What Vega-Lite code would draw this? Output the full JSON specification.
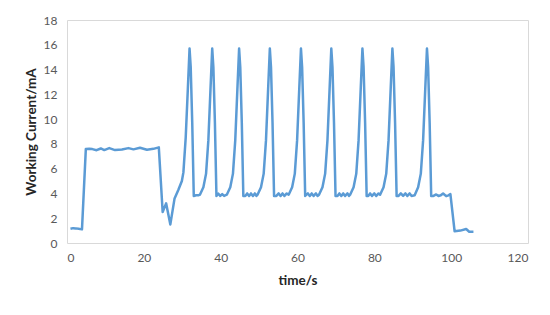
{
  "$schema": "https://vega.github.io/schema/vega-lite/v6.json",
  "autosize": "none",
  "width": 461,
  "height": 223,
  "padding": {"left": 67, "top": 20, "right": 22, "bottom": 72},
  "background": "white",
  "config": {
    "view": {"stroke": "#d9d9d9", "strokeWidth": 1},
    "font": "Lato",
    "axis": {
      "grid": false,
      "domain": false,
      "ticks": false,
      "labelFont": "Lato",
      "labelFontSize": 12,
      "labelColor": "#595959",
      "titleFont": "Lato",
      "titleFontSize": 13.5,
      "titleFontWeight": "bold",
      "titleColor": "#262626"
    }
  },
  "data": {
    "values": [
      {"t": 0.9, "v": 1.15}, {"t": 1.6, "v": 1.2}, {"t": 2.3, "v": 1.18}, {"t": 3.0, "v": 1.15}, {"t": 3.9, "v": 1.1},
      {"t": 4.9, "v": 7.58}, {"t": 5.8, "v": 7.6}, {"t": 6.6, "v": 7.58}, {"t": 7.7, "v": 7.49}, {"t": 8.8, "v": 7.63},
      {"t": 9.7, "v": 7.5}, {"t": 11.0, "v": 7.66}, {"t": 12.5, "v": 7.5}, {"t": 14.3, "v": 7.55}, {"t": 16.0, "v": 7.66},
      {"t": 17.3, "v": 7.56}, {"t": 19.0, "v": 7.69}, {"t": 20.8, "v": 7.53}, {"t": 22.5, "v": 7.6}, {"t": 23.9, "v": 7.72},
      {"t": 24.9, "v": 2.5}, {"t": 25.8, "v": 3.2}, {"t": 26.9, "v": 1.5}, {"t": 28.0, "v": 3.6}, {"t": 29.0, "v": 4.3},
      {"t": 29.9, "v": 5.0}, {"t": 30.3, "v": 5.7}, {"t": 30.9, "v": 8.5}, {"t": 31.45, "v": 12.4}, {"t": 31.9, "v": 15.7},
      {"t": 32.2, "v": 14.2}, {"t": 32.6, "v": 9.7}, {"t": 33.0, "v": 3.8},
      {"t": 33.6, "v": 3.85}, {"t": 34.2, "v": 3.85}, {"t": 34.6, "v": 3.9},
      {"t": 35.5, "v": 4.5}, {"t": 36.2, "v": 5.6}, {"t": 36.8, "v": 8.3}, {"t": 37.35, "v": 12.4}, {"t": 37.8, "v": 15.7},
      {"t": 38.1, "v": 14.2}, {"t": 38.5, "v": 9.7}, {"t": 38.9, "v": 3.8},
      {"t": 39.4, "v": 3.98}, {"t": 39.9, "v": 3.8}, {"t": 40.4, "v": 3.95}, {"t": 40.9, "v": 3.8}, {"t": 41.6, "v": 3.9},
      {"t": 42.5, "v": 4.5}, {"t": 43.2, "v": 5.6}, {"t": 43.8, "v": 8.3}, {"t": 44.35, "v": 12.4}, {"t": 44.8, "v": 15.7},
      {"t": 45.1, "v": 14.2}, {"t": 45.5, "v": 9.7}, {"t": 45.9, "v": 3.8},
      {"t": 46.4, "v": 3.8}, {"t": 46.9, "v": 4.0}, {"t": 47.4, "v": 3.8}, {"t": 47.9, "v": 4.0}, {"t": 48.4, "v": 3.8}, {"t": 48.9, "v": 4.0}, {"t": 49.3, "v": 3.8}, {"t": 49.6, "v": 3.9},
      {"t": 50.5, "v": 4.5}, {"t": 51.2, "v": 5.6}, {"t": 51.8, "v": 8.3}, {"t": 52.35, "v": 12.4}, {"t": 52.8, "v": 15.7},
      {"t": 53.1, "v": 14.2}, {"t": 53.5, "v": 9.7}, {"t": 53.9, "v": 3.8},
      {"t": 54.5, "v": 3.8}, {"t": 55.1, "v": 4.0}, {"t": 55.6, "v": 3.8}, {"t": 56.1, "v": 4.0}, {"t": 56.6, "v": 3.8}, {"t": 57.2, "v": 4.0}, {"t": 57.7, "v": 3.9},
      {"t": 58.6, "v": 4.5}, {"t": 59.3, "v": 5.6}, {"t": 59.9, "v": 8.3}, {"t": 60.45, "v": 12.4}, {"t": 60.9, "v": 15.7},
      {"t": 61.2, "v": 14.2}, {"t": 61.6, "v": 9.7}, {"t": 62.0, "v": 3.8},
      {"t": 62.7, "v": 4.0}, {"t": 63.2, "v": 3.8}, {"t": 63.7, "v": 4.0}, {"t": 64.2, "v": 3.8}, {"t": 64.8, "v": 4.0}, {"t": 65.2, "v": 3.8}, {"t": 65.6, "v": 3.9},
      {"t": 66.5, "v": 4.5}, {"t": 67.2, "v": 5.6}, {"t": 67.8, "v": 8.3}, {"t": 68.35, "v": 12.4}, {"t": 68.8, "v": 15.7},
      {"t": 69.1, "v": 14.2}, {"t": 69.5, "v": 9.7}, {"t": 69.9, "v": 3.8},
      {"t": 70.4, "v": 3.8}, {"t": 70.9, "v": 4.0}, {"t": 71.4, "v": 3.8}, {"t": 71.9, "v": 4.0}, {"t": 72.4, "v": 3.8}, {"t": 73.0, "v": 4.0}, {"t": 73.4, "v": 3.8}, {"t": 73.7, "v": 3.9},
      {"t": 74.6, "v": 4.5}, {"t": 75.3, "v": 5.6}, {"t": 75.9, "v": 8.3}, {"t": 76.45, "v": 12.4}, {"t": 76.9, "v": 15.7},
      {"t": 77.2, "v": 14.2}, {"t": 77.6, "v": 9.7}, {"t": 78.0, "v": 3.8},
      {"t": 78.4, "v": 3.8}, {"t": 78.9, "v": 4.0}, {"t": 79.4, "v": 3.8}, {"t": 80.0, "v": 4.0}, {"t": 80.5, "v": 3.8}, {"t": 81.1, "v": 4.0}, {"t": 81.5, "v": 3.9},
      {"t": 82.4, "v": 4.5}, {"t": 83.1, "v": 5.6}, {"t": 83.7, "v": 8.3}, {"t": 84.25, "v": 12.4}, {"t": 84.7, "v": 15.7},
      {"t": 85.0, "v": 14.2}, {"t": 85.4, "v": 9.7}, {"t": 85.8, "v": 3.8},
      {"t": 86.3, "v": 3.8}, {"t": 86.9, "v": 4.0}, {"t": 87.5, "v": 3.8}, {"t": 88.1, "v": 4.0}, {"t": 88.6, "v": 3.8}, {"t": 89.2, "v": 4.0}, {"t": 89.7, "v": 3.8}, {"t": 90.5, "v": 3.85},
      {"t": 91.4, "v": 4.5}, {"t": 92.1, "v": 5.6}, {"t": 92.7, "v": 8.3}, {"t": 93.25, "v": 12.4}, {"t": 93.7, "v": 15.7},
      {"t": 94.0, "v": 14.2}, {"t": 94.4, "v": 9.7}, {"t": 94.8, "v": 3.8},
      {"t": 95.4, "v": 3.8}, {"t": 96.1, "v": 3.92}, {"t": 96.7, "v": 3.8}, {"t": 97.3, "v": 3.85}, {"t": 97.9, "v": 4.0}, {"t": 98.7, "v": 3.78}, {"t": 99.3, "v": 3.85}, {"t": 99.8, "v": 3.95},
      {"t": 100.9, "v": 0.94}, {"t": 102.4, "v": 1.0}, {"t": 103.9, "v": 1.13}, {"t": 104.7, "v": 0.91}, {"t": 105.8, "v": 0.91}
    ]
  },
  "mark": {"type": "line", "stroke": "#5b9bd5", "strokeWidth": 2.5, "strokeJoin": "round"},
  "encoding": {
    "x": {
      "field": "t", "type": "quantitative", "title": "time/s",
      "scale": {"domain": [0, 120], "nice": false, "zero": false},
      "axis": {"values": [0, 20, 40, 60, 80, 100, 120], "labelPadding": 9, "titlePadding": 10}
    },
    "y": {
      "field": "v", "type": "quantitative", "title": "Working Current/mA",
      "scale": {"domain": [0, 18], "nice": false},
      "axis": {"values": [0, 2, 4, 6, 8, 10, 12, 14, 16, 18], "labelPadding": 10, "titlePadding": 5}
    }
  }
}
